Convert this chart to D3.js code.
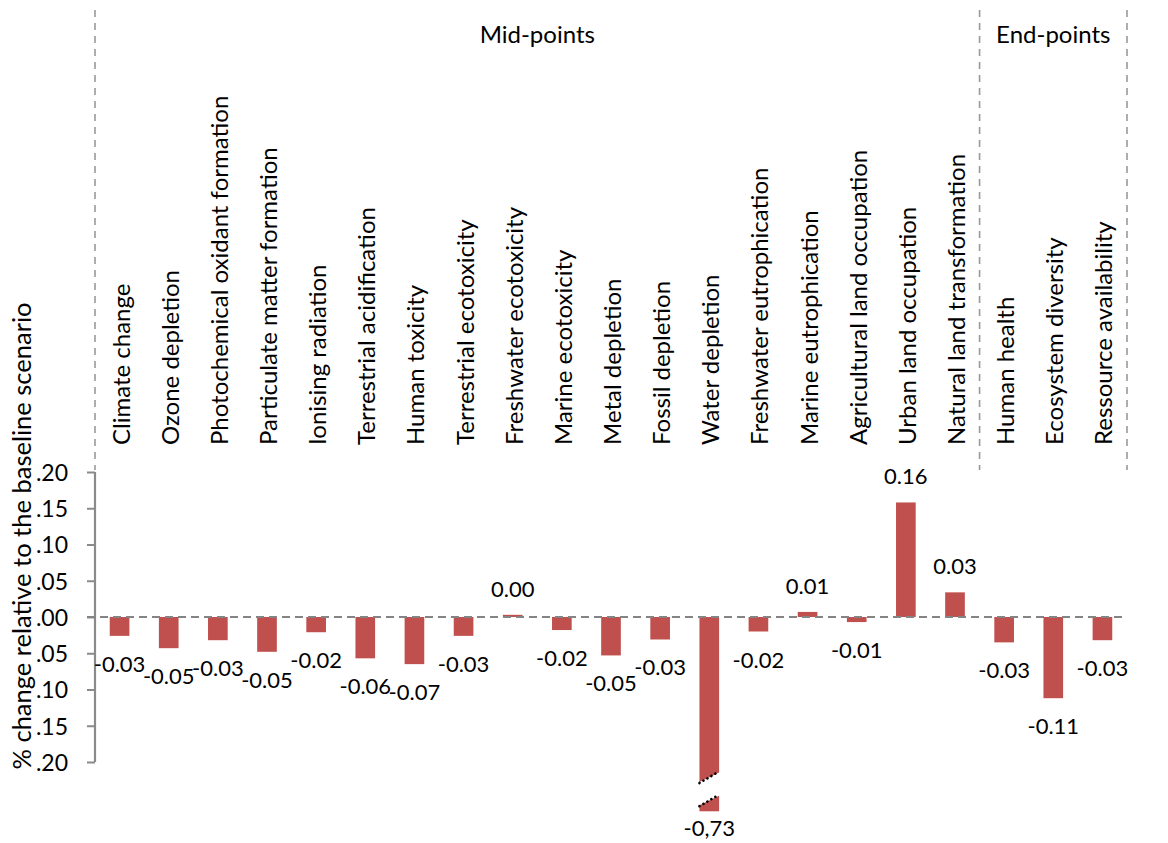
<!DOCTYPE html>
<html>
<head>
<meta charset="utf-8">
<script src="https://cdn.jsdelivr.net/npm/d3@7"></script>
<style>
  html, body { margin: 0; padding: 0; background: #fff; }
  svg { display: block; }
  text { font-family: Lato, "Open Sans", sans-serif; fill: #000; }
</style>
</head>
<body>
<svg id="chart" width="1168" height="843"></svg>
<script>
// ---------- data ----------
const categories = [
  "Climate change", "Ozone depletion", "Photochemical oxidant formation",
  "Particulate matter  formation", "Ionising radiation", "Terrestrial acidification",
  "Human toxicity", "Terrestrial ecotoxicity", "Freshwater ecotoxicity",
  "Marine ecotoxicity", "Metal depletion", "Fossil depletion", "Water depletion",
  "Freshwater eutrophication", "Marine eutrophication", "Agricultural land occupation",
  "Urban land occupation", "Natural land transformation",
  "Human health", "Ecosystem diversity", "Ressource availability"
];
const values = [
  -0.026, -0.043, -0.032, -0.048, -0.021, -0.057, -0.065, -0.026, 0.003,
  -0.018, -0.053, -0.031, -0.73, -0.020, 0.007, -0.007, 0.158, 0.034,
  -0.035, -0.112, -0.032
];
const valueLabels = [
  "-0.03", "-0.05", "-0.03", "-0.05", "-0.02", "-0.06", "-0.07", "-0.03", "0.00",
  "-0.02", "-0.05", "-0.03", "-0,73", "-0.02", "0.01", "-0.01", "0.16", "0.03",
  "-0.03", "-0.11", "-0.03"
];
const groups = ["Mid-points", "End-points"];
const groupSizes = [18, 3];
const tickValues = [0.20, 0.15, 0.10, 0.05, 0.00, -0.05, -0.10, -0.15, -0.20];
const tickLabels = [".20", ".15", ".10", ".05", ".00", ".05", ".10", ".15", ".20"];
const yTitle = "% change relative to the baseline scenario";

// ---------- layout ----------
const W = 1168, H = 843;
const plotLeft = 95, plotRight = 1127;
const yTop = 472, yBottom = 762;
const displayFloor = -0.268;         // lowest value drawn (broken bar)
const breakUpper = [-0.229, -0.213]; // left, right (data units) upper edge of the break
const breakLower = [-0.261, -0.245]; // left, right lower edge of the break
const barColor = "#C0504D";
const gray = "#8a8a8a";

const svg = d3.select("#chart");

const x = d3.scaleBand()
  .domain(categories)
  .range([plotLeft, plotRight])
  .paddingInner(0.6)
  .paddingOuter(0.3);

const y = d3.scaleLinear().domain([-0.2, 0.2]).range([yBottom, yTop]);

// ---------- group separators & headers ----------
const step = x.step();
let acc = 0;
const bounds = [plotLeft];
groupSizes.forEach(n => { acc += n; bounds.push(plotLeft + acc * step); });

svg.selectAll("line.sep")
  .data(bounds)
  .join("line")
  .attr("class", "sep")
  .attr("x1", d => d).attr("x2", d => d)
  .attr("y1", 10).attr("y2", 470)
  .attr("stroke", "#999")
  .attr("stroke-width", 1.6)
  .attr("stroke-dasharray", "7,6");

svg.selectAll("text.group")
  .data(groups)
  .join("text")
  .attr("class", "group")
  .attr("x", (d, i) => (bounds[i] + bounds[i + 1]) / 2)
  .attr("y", 43)
  .attr("text-anchor", "middle")
  .style("font-size", "24px")
  .text(d => d);

// ---------- category labels ----------
svg.selectAll("text.cat")
  .data(categories)
  .join("text")
  .attr("class", "cat")
  .attr("transform", d => `translate(${x(d) + x.bandwidth() / 2 + 10},445) rotate(-90)`)
  .attr("text-anchor", "start")
  .style("font-size", "24px")
  .text(d => d);

// ---------- y axis ----------
const axisG = svg.append("g").attr("transform", `translate(${plotLeft},0)`);
const axis = d3.axisLeft(y)
  .tickValues(tickValues)
  .tickSize(8)
  .tickFormat((d, i) => tickLabels[i]);
axisG.call(axis);
axisG.select(".domain").remove();
axisG.append("line")
  .attr("x1", 0).attr("x2", 0)
  .attr("y1", y(0.2)).attr("y2", y(-0.2))
  .attr("stroke", gray).attr("stroke-width", 2.2);
axisG.selectAll(".tick line").attr("stroke", gray).attr("stroke-width", 2);
axisG.selectAll(".tick text")
  .attr("x", -27)
  .attr("dy", "0.36em")
  .style("font-family", "Lato, sans-serif")
  .style("font-size", "23px")
  .attr("fill", "#000");

// y title
svg.append("text")
  .attr("transform", `translate(31,536) rotate(-90)`)
  .attr("text-anchor", "middle")
  .style("font-size", "25.5px")
  .text(yTitle);

// ---------- bars ----------
const shown = v => Math.max(v, displayFloor);
const data = categories.map((c, i) => ({ c, v: values[i], label: valueLabels[i] }));

svg.selectAll("rect.bar")
  .data(data)
  .join("rect")
  .attr("class", "bar")
  .attr("x", d => x(d.c))
  .attr("width", x.bandwidth())
  .attr("y", d => y(Math.max(0, shown(d.v))))
  .attr("height", d => Math.abs(y(shown(d.v)) - y(0)))
  .attr("fill", barColor);

// break on bars exceeding the display floor
const broken = data.filter(d => d.v < displayFloor);
broken.forEach(d => {
  const x0 = x(d.c), x1 = x(d.c) + x.bandwidth();
  svg.append("polygon")
    .attr("points", [
      [x0 - 2, y(breakUpper[0])], [x1 + 2, y(breakUpper[1])],
      [x1 + 2, y(breakLower[1])], [x0 - 2, y(breakLower[0])]
    ].map(p => p.join(",")).join(" "))
    .attr("fill", "#fff");
  [breakUpper, breakLower].forEach(b => {
    svg.append("line")
      .attr("x1", x0).attr("y1", y(b[0]))
      .attr("x2", x1).attr("y2", y(b[1]))
      .attr("stroke", "#000")
      .attr("stroke-width", 2.6)
      .attr("stroke-linecap", "round")
      .attr("stroke-dasharray", "0.1,4.5");
  });
});

// ---------- zero line ----------
svg.append("line")
  .attr("x1", plotLeft - 8).attr("x2", plotRight - 2)
  .attr("y1", y(0)).attr("y2", y(0))
  .attr("stroke", "#848484")
  .attr("stroke-width", 2.2)
  .attr("stroke-dasharray", "8,5");

// ---------- value labels ----------
svg.selectAll("text.val")
  .data(data)
  .join("text")
  .attr("class", "val")
  .attr("x", d => x(d.c) + x.bandwidth() / 2)
  .attr("y", d => d.v >= 0 ? y(d.v) - 18 : Math.min(y(shown(d.v)) + 36, H - 7))
  .attr("text-anchor", "middle")
  .style("font-size", "22px")
  .text(d => d.label);
</script>
</body>
</html>
